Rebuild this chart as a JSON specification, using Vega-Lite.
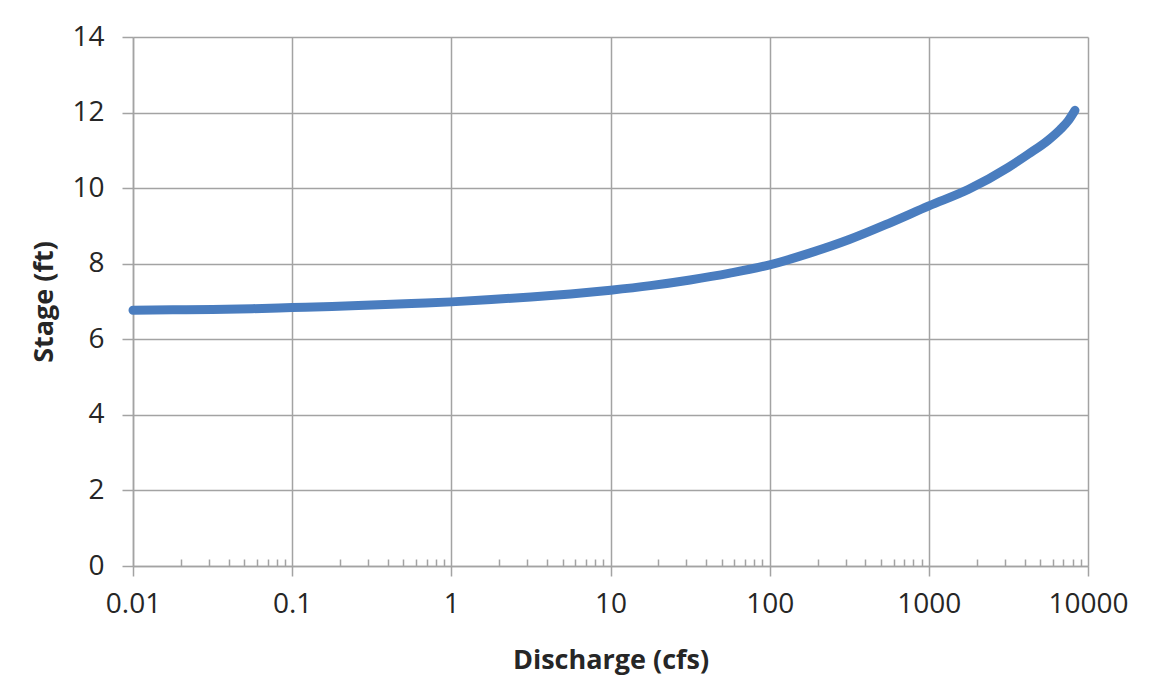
{
  "$schema": "https://vega.github.io/schema/vega-lite/v6.json",
  "width": 955,
  "height": 529,
  "autosize": {"type": "none"},
  "padding": {"left": 133, "top": 37, "right": 65, "bottom": 125},
  "background": "white",
  "config": {
    "view": {"stroke": null},
    "font": "Open Sans",
    "axis": {
      "labelFont": "Open Sans",
      "titleFont": "Open Sans",
      "labelColor": "#262626",
      "titleColor": "#262626",
      "gridColor": "#a3a3a3",
      "gridWidth": 1.5,
      "domainColor": "#a3a3a3",
      "domainWidth": 1.5,
      "tickColor": "#a3a3a3",
      "tickWidth": 1.5
    }
  },
  "data": {
    "values": [
      {"discharge": 0.01, "stage": 6.77},
      {"discharge": 0.0178, "stage": 6.78},
      {"discharge": 0.0316, "stage": 6.79},
      {"discharge": 0.0562, "stage": 6.81},
      {"discharge": 0.1, "stage": 6.84},
      {"discharge": 0.178, "stage": 6.87},
      {"discharge": 0.316, "stage": 6.91},
      {"discharge": 0.562, "stage": 6.95},
      {"discharge": 1, "stage": 6.99},
      {"discharge": 1.78, "stage": 7.05},
      {"discharge": 3.16, "stage": 7.12},
      {"discharge": 5.62, "stage": 7.2},
      {"discharge": 10, "stage": 7.3},
      {"discharge": 17.8, "stage": 7.42},
      {"discharge": 31.6, "stage": 7.57},
      {"discharge": 56.2, "stage": 7.75},
      {"discharge": 100, "stage": 7.97},
      {"discharge": 178, "stage": 8.28},
      {"discharge": 316, "stage": 8.64},
      {"discharge": 562, "stage": 9.07},
      {"discharge": 1000, "stage": 9.53},
      {"discharge": 1780, "stage": 9.97},
      {"discharge": 3160, "stage": 10.55},
      {"discharge": 4220, "stage": 10.9},
      {"discharge": 5620, "stage": 11.27},
      {"discharge": 6680, "stage": 11.55},
      {"discharge": 7500, "stage": 11.78},
      {"discharge": 8280, "stage": 12.06}
    ]
  },
  "resolve": {"axis": {"x": "independent"}},
  "layer": [
    {
      "mark": {"type": "line", "color": "#4a7dbf", "strokeWidth": 9, "strokeCap": "round", "strokeJoin": "round", "interpolate": "monotone"},
      "encoding": {
        "x": {
          "field": "discharge",
          "type": "quantitative",
          "scale": {"type": "log", "domain": [0.01, 10000], "nice": false},
          "axis": {
            "values": [0.01, 0.1, 1, 10, 100, 1000, 10000],
            "format": "~g",
            "grid": true,
            "tickSize": 10,
            "labelFontSize": 28,
            "labelPadding": 14,
            "labelFlush": false,
            "title": "Discharge (cfs)",
            "titleFontSize": 27,
            "titleFontWeight": "bold",
            "titlePadding": 29
          }
        },
        "y": {
          "field": "stage",
          "type": "quantitative",
          "scale": {"domain": [0, 14], "nice": false},
          "axis": {
            "values": [0, 2, 4, 6, 8, 10, 12, 14],
            "grid": true,
            "tickSize": 11,
            "labelFontSize": 28,
            "labelPadding": 18,
            "labelFlush": false,
            "title": "Stage (ft)",
            "titleFontSize": 27,
            "titleFontWeight": "bold",
            "titlePadding": 13
          }
        }
      }
    },
    {
      "mark": {"type": "point", "opacity": 0},
      "encoding": {
        "x": {
          "field": "discharge",
          "type": "quantitative",
          "scale": {"type": "log", "domain": [0.01, 10000], "nice": false},
          "axis": {
            "orient": "bottom",
            "values": [0.02, 0.03, 0.04, 0.05, 0.06, 0.07, 0.08, 0.09, 0.2, 0.3, 0.4, 0.5, 0.6, 0.7, 0.8, 0.9, 2, 3, 4, 5, 6, 7, 8, 9, 20, 30, 40, 50, 60, 70, 80, 90, 200, 300, 400, 500, 600, 700, 800, 900, 2000, 3000, 4000, 5000, 6000, 7000, 8000, 9000],
            "tickSize": -7,
            "labels": false,
            "domain": false,
            "grid": false,
            "title": null
          }
        }
      }
    }
  ]
}
